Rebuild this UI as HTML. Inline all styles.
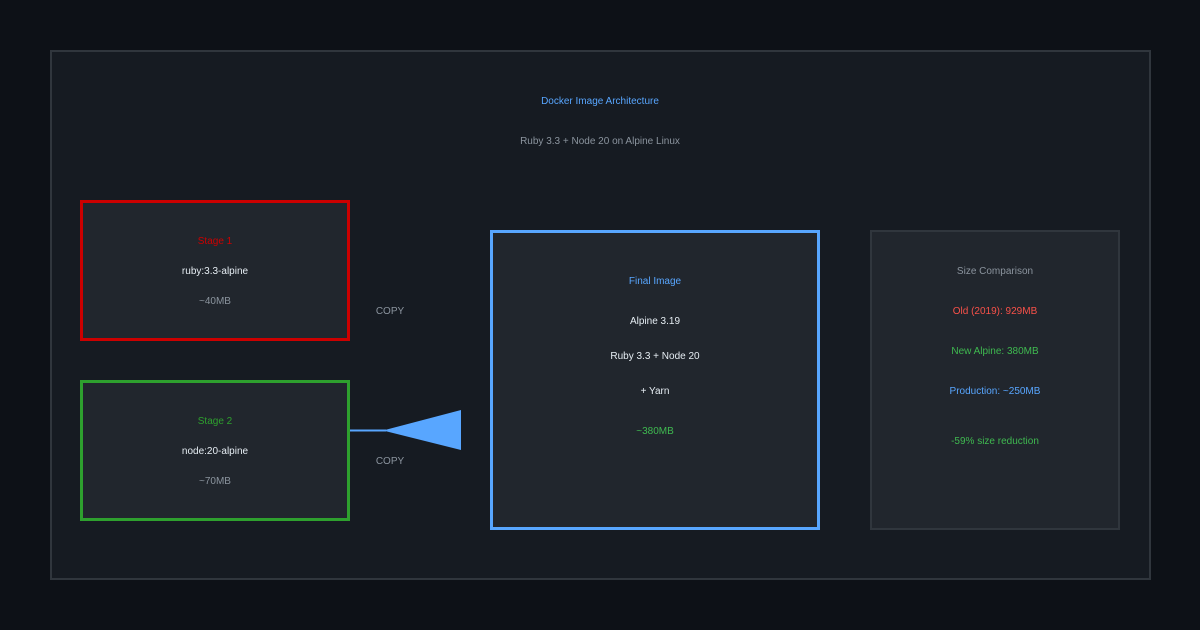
<!DOCTYPE html>
<html><head><style>html,body{margin:0;padding:0;background:#0d1117;}svg{display:block}text{font-family:"Liberation Sans",sans-serif;font-size:10px;text-anchor:middle}</style></head>
<body>
<svg width="1200" height="630" xmlns="http://www.w3.org/2000/svg">
<rect width="1200" height="630" fill="#0d1117"/>
<rect x="51" y="51" width="1099" height="528" fill="#161b22" stroke="#30363d" stroke-width="2"/>
<text x="600" y="104" fill="#58a6ff">Docker Image Architecture</text>
<text x="600" y="144" fill="#8b949e">Ruby 3.3 + Node 20 on Alpine Linux</text>
<rect x="81.5" y="201.5" width="267" height="138" fill="#21262d" stroke="#cc0000" stroke-width="3"/>
<text x="215" y="244" fill="#cc0000">Stage 1</text>
<text x="215" y="274" fill="#e6edf3">ruby:3.3-alpine</text>
<text x="215" y="304" fill="#8b949e">~40MB</text>
<rect x="81.5" y="381.5" width="267" height="138" fill="#21262d" stroke="#2ea02e" stroke-width="3"/>
<text x="215" y="424" fill="#2ea02e">Stage 2</text>
<text x="215" y="454" fill="#e6edf3">node:20-alpine</text>
<text x="215" y="484" fill="#8b949e">~70MB</text>
<text x="390" y="314" fill="#8b949e">COPY</text>
<text x="390" y="464" fill="#8b949e">COPY</text>
<line x1="350" y1="430.5" x2="386" y2="430.5" stroke="#58a6ff" stroke-width="2"/>
<polygon points="383,430.5 461,410 461,450" fill="#58a6ff"/>
<rect x="491.5" y="231.5" width="327" height="297" fill="#21262d" stroke="#58a6ff" stroke-width="3"/>
<text x="655" y="284" fill="#58a6ff">Final Image</text>
<text x="655" y="324" fill="#e6edf3">Alpine 3.19</text>
<text x="655" y="359" fill="#e6edf3">Ruby 3.3 + Node 20</text>
<text x="655" y="394" fill="#e6edf3">+ Yarn</text>
<text x="655" y="434" fill="#3fb950">~380MB</text>
<rect x="871" y="231" width="248" height="298" fill="#21262d" stroke="#30363d" stroke-width="2"/>
<text x="995" y="274" fill="#8b949e">Size Comparison</text>
<text x="995" y="314" fill="#f85149">Old (2019): 929MB</text>
<text x="995" y="354" fill="#3fb950">New Alpine: 380MB</text>
<text x="995" y="394" fill="#58a6ff">Production: ~250MB</text>
<text x="995" y="444" fill="#3fb950">-59% size reduction</text>
</svg>
</body></html>
